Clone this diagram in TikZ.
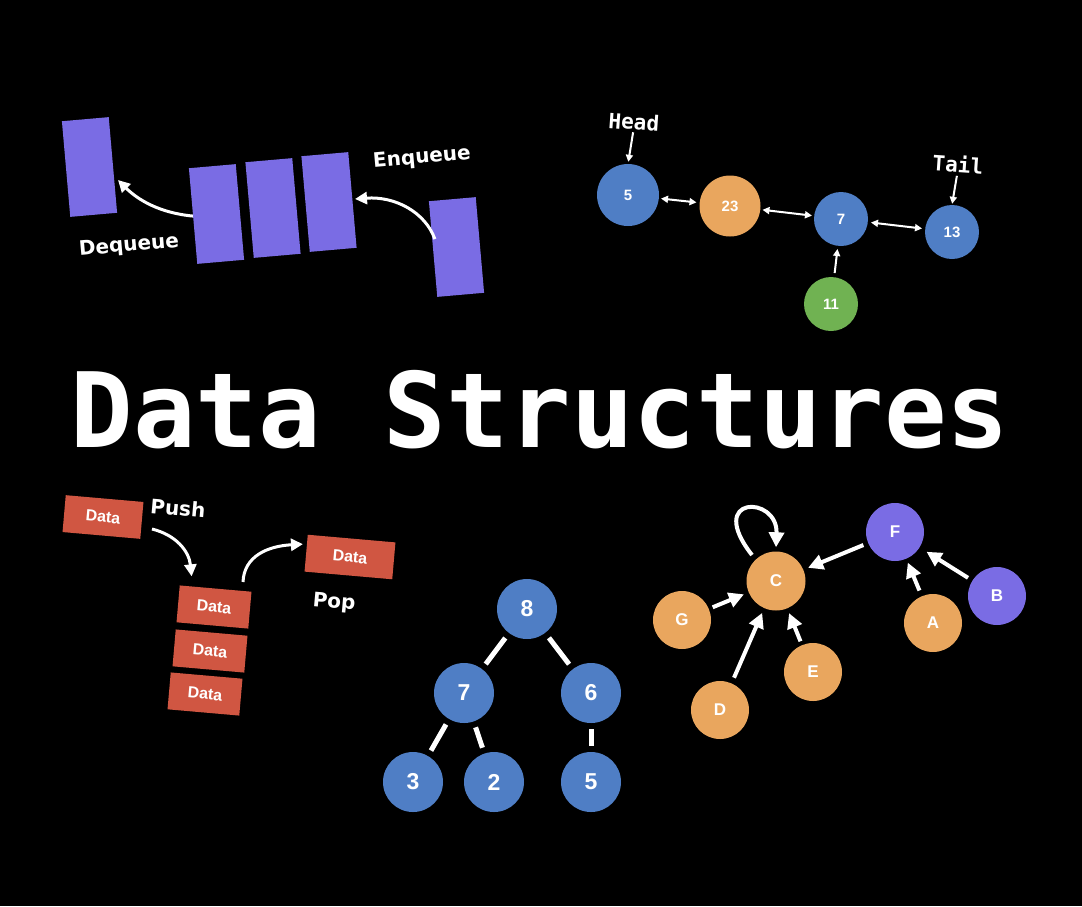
\documentclass[tikz,border=0pt]{standalone}
\usepackage{fontspec}
\setmainfont{Liberation Sans}
\newfontfamily\monofont{DejaVu Sans Mono}
\newfontfamily\dejafont{DejaVu Sans}
\usetikzlibrary{arrows.meta,calc}
\definecolor{dsblue}{RGB}{79,126,197}
\definecolor{dsorange}{RGB}{233,166,94}
\definecolor{dsgreen}{RGB}{112,178,82}
\definecolor{dspurple}{RGB}{122,108,228}
\definecolor{dsred}{RGB}{208,86,66}
\begin{document}
\begin{tikzpicture}[x=1pt,y=-1pt,
  qbox/.style={fill=dspurple, minimum width=47pt, minimum height=96pt, inner sep=0pt, rotate=5},
  sbox/.style={fill=dsred, minimum height=37pt, inner sep=0pt, rotate=-5, text=white,
    font=\fontsize{16}{16}\selectfont\bfseries},
  lnode/.style={circle, inner sep=0pt, text=white, font=\fontsize{15}{15}\selectfont\bfseries},
  tnode/.style={circle, fill=dsblue, minimum size=60pt, inner sep=0pt, text=white,
    font=\fontsize{23}{23}\selectfont\bfseries},
  gnode/.style={circle, minimum size=58pt, inner sep=0pt, text=white,
    font=\fontsize{17}{17}\selectfont\bfseries},
  lbl/.style={text=white, font=\dejafont\fontsize{20}{20}\selectfont\bfseries, inner sep=0pt},
  mlbl/.style={text=white, font=\monofont\fontsize{21}{21}\selectfont\bfseries, inner sep=0pt},
  qarrow/.style={draw=white, line width=3pt, -{Triangle[length=12pt,width=12pt]}},
  larrow/.style={draw=white, line width=2pt, {Triangle[length=7pt,width=7pt]}-{Triangle[length=7pt,width=7pt]}},
  harrow/.style={draw=white, line width=2pt, -{Triangle[length=7pt,width=7pt]}},
  garrow/.style={draw=white, line width=4pt, -{Triangle[length=15pt,width=15pt]}},
  tedge/.style={draw=white, line width=5pt, shorten <=6pt, shorten >=6pt}
]
\fill[black] (0,0) rectangle (1082,906);

% ---------- Queue ----------
\node[qbox] (q1) at (89.5,167) {};
\node[qbox] (q2) at (216.5,214) {};
\node[qbox] (q3) at (273,208) {};
\node[qbox] (q4) at (329,202) {};
\node[qbox] (q5) at (456.5,247) {};
\node[lbl, rotate=5] (enq) at (422,158) {Enqueue};
\node[lbl, rotate=5] (deq) at (129,246) {Dequeue};
\coordinate (deqend) at (118,180);
\coordinate (enqend) at (355,199);
\draw[qarrow] (q2.west) .. controls (160,213) and (138,200) .. (deqend);
\draw[qarrow] ($(q5.west)+(2,-10)$) .. controls (425,212) and (395,196) .. (enqend);

% ---------- Linked list ----------
\node[lnode, fill=dsblue, minimum size=62pt] (n5) at (628,195) {5};
\node[lnode, fill=dsorange, minimum size=61pt] (n23) at (730,206) {23};
\node[lnode, fill=dsblue, minimum size=54pt] (n7) at (841,219) {7};
\node[lnode, fill=dsblue, minimum size=54pt] (n13) at (952,232) {13};
\node[lnode, fill=dsgreen, minimum size=54pt] (n11) at (831,304) {11};
\node[mlbl, rotate=-4] (head) at (634,122) {Head};
\node[mlbl, rotate=-4] (tail) at (958,164) {Tail};
\draw[larrow, shorten <=2pt, shorten >=3pt] (n5) -- (n23);
\draw[larrow, shorten <=2pt, shorten >=2pt] (n23) -- (n7);
\draw[larrow, shorten <=3pt, shorten >=3pt] (n7) -- (n13);
\draw[harrow, shorten <=4pt, shorten >=3pt] (n11) -- (n7);
\draw[harrow, shorten <=2pt, shorten >=2pt] (head.south) -- (n5.north);
\draw[harrow, shorten <=3pt, shorten >=1pt] (tail.south) -- (n13.north);

% ---------- Title ----------
\node[text=white, font=\monofont\fontsize{104}{104}\selectfont\bfseries, anchor=base, inner sep=0pt] (title) at (540,447) {Data Structures};

% ---------- Stack ----------
\node[sbox, minimum width=78pt] (s0) at (103,517) {Data};
\node[sbox, minimum width=72pt] (s1) at (214,607) {Data};
\node[sbox, minimum width=72pt] (s2) at (210,651) {Data};
\node[sbox, minimum width=72pt] (s3) at (205,694) {Data};
\node[sbox, minimum width=88pt] (sp) at (350,557) {Data};
\node[lbl, rotate=-5] (push) at (178,508) {Push};
\node[lbl, rotate=-5] (pop) at (334,603) {Pop};
\coordinate (pushstart) at (152,529);
\coordinate (popstart) at (243,582);
\draw[qarrow] (pushstart) .. controls (176,535) and (189,551) .. ($(s1.north)+(-24,-12)$);
\draw[qarrow] (popstart) .. controls (244,556) and (268,546) .. ($(sp.west)+(-3,-9)$);

% ---------- Tree ----------
\node[tnode] (t8) at (527,609) {8};
\node[tnode] (t7) at (464,693) {7};
\node[tnode] (t6) at (591,693) {6};
\node[tnode] (t3) at (413,782) {3};
\node[tnode] (t2) at (494,782) {2};
\node[tnode] (t5) at (591,782) {5};
\draw[tedge] (t8) -- (t7);
\draw[tedge] (t8) -- (t6);
\draw[tedge] (t7) -- (t3);
\draw[tedge] (t7) -- (t2);
\draw[tedge] (t6) -- (t5);

% ---------- Graph ----------
\node[gnode, fill=dsorange, minimum size=59pt] (gC) at (776,581) {C};
\node[gnode, fill=dspurple] (gF) at (895,532) {F};
\node[gnode, fill=dspurple] (gB) at (997,596) {B};
\node[gnode, fill=dsorange] (gA) at (933,623) {A};
\node[gnode, fill=dsorange] (gG) at (682,620) {G};
\node[gnode, fill=dsorange] (gD) at (720,710) {D};
\node[gnode, fill=dsorange] (gE) at (813,672) {E};
\draw[garrow] ($(gC.135)+(-3,-5)$) .. controls (705,495) and (778,495) .. ($(gC.north)+(0,-4)$);
\draw[garrow, shorten <=5pt, shorten >=5pt] (gF) -- (gC);
\draw[garrow, shorten <=4pt, shorten >=5pt] (gG) -- (gC);
\draw[garrow, shorten <=6pt, shorten >=5pt] (gD) -- (gC);
\draw[garrow, shorten <=4pt, shorten >=5pt] (gE) -- (gC);
\draw[garrow, shorten <=6pt, shorten >=4pt] (gA) -- (gF);
\draw[garrow, shorten <=5pt, shorten >=8pt] (gB) -- (gF);
\end{tikzpicture}
\end{document}
